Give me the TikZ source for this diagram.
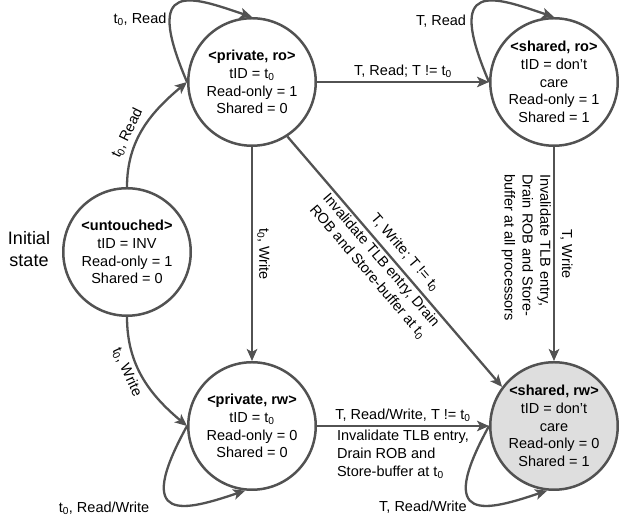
\documentclass[tikz,border=0pt]{standalone}
\usepackage{fontspec}
\setmainfont{Liberation Sans}
\usetikzlibrary{arrows.meta}
\definecolor{edgegray}{RGB}{82,82,82}
\definecolor{fillgray}{RGB}{222,222,222}
\newcommand{\tz}{t\textsubscript{0}}
\begin{document}
\begin{tikzpicture}[x=1pt,y=1pt,
  state/.style={circle, draw=edgegray, line width=2.5pt, minimum size=127.5pt, inner sep=0pt, align=center, font=\fontsize{14.5}{17.8}\selectfont, text=black},
  edge/.style={draw=edgegray, line width=2.3pt, -{Stealth[length=12pt,width=10.5pt,inset=3pt]}},
  lbl/.style={font=\fontsize{14.5}{17.8}\selectfont, inner sep=2pt, text=black},
]
\useasboundingbox (0,0) rectangle (619,518);
\node[state] (pro) at (252,436) {\textbf{<private, ro>}\\tID = \tz\\Read-only = 1\\Shared = 0};
\node[state] (sro) at (554,436) {\textbf{<shared, ro>}\\tID = don’t\\care\\Read-only = 1\\Shared = 1};
\node[state] (unt) at (127,266) {\textbf{<untouched>}\\tID = INV\\Read-only = 1\\Shared = 0};
\node[state] (prw) at (252,92) {\textbf{<private, rw>}\\tID = \tz\\Read-only = 0\\Shared = 0};
\node[state, fill=fillgray] (srw) at (554,92) {\textbf{<shared, rw>}\\tID = don’t\\care\\Read-only = 0\\Shared = 1};
\node[font=\fontsize{18}{22}\selectfont, align=center] (init) at (29,269) {Initial\\state};

\draw[edge] (unt.north) to[out=90,in=220] node[lbl,sloped,above=2pt,pos=0.4]{\tz, Read} (pro.west);
\draw[edge] (unt.south) to[out=-90,in=140] node[lbl,sloped,below=2pt,pos=0.4]{\tz, Write} (prw.west);

\draw[edge] (pro.west) .. controls +(-45,105) and +(-60,20) .. (pro.north);
\draw[edge] (sro.west) .. controls +(-45,105) and +(-60,20) .. (sro.north);
\draw[edge] (prw.west) .. controls +(-55,-100) and +(-60,-20) .. (prw.-96);
\draw[edge] (srw.west) .. controls +(-55,-100) and +(-60,-20) .. (srw.-96);
\node[lbl] (lpro) at (140,499) {\tz, Read};
\node[lbl] (lsro) at (441,497) {T, Read};
\node[lbl] (lprw) at (104,10) {\tz, Read/Write};
\node[lbl] (lsrw) at (423,11) {T, Read/Write};

\draw[edge] (pro.east) -- node[lbl,above=1pt]{T, Read; T != \tz} (sro.west);
\draw[edge] (pro.south) -- node[lbl,rotate=-90,anchor=south,yshift=2pt]{\tz, Write} (prw.north);
\draw[edge] (sro.south) -- node[lbl,rotate=-90,anchor=south,yshift=3pt]{T, Write}
  node[lbl,rotate=-90,anchor=north,align=left,pos=0.47]{Invalidate TLB entry,\\Drain ROB and Store-\\buffer at all processors} (srw.north);
\draw[edge] (pro.-57) -- node[lbl,sloped,above=4pt,pos=0.5]{T, Write; T != \tz}
  node[lbl,sloped,below=0pt,pos=0.47,align=center]{Invalidate TLB entry, Drain\\ROB and Store-buffer at \tz} (srw.143);
\draw[edge] (prw.east) -- node[lbl,above=1pt]{T, Read/Write, T != \tz}
  node[lbl,below=1pt,align=left]{Invalidate TLB entry,\\Drain ROB and\\Store-buffer at \tz} (srw.west);
\end{tikzpicture}
\end{document}
